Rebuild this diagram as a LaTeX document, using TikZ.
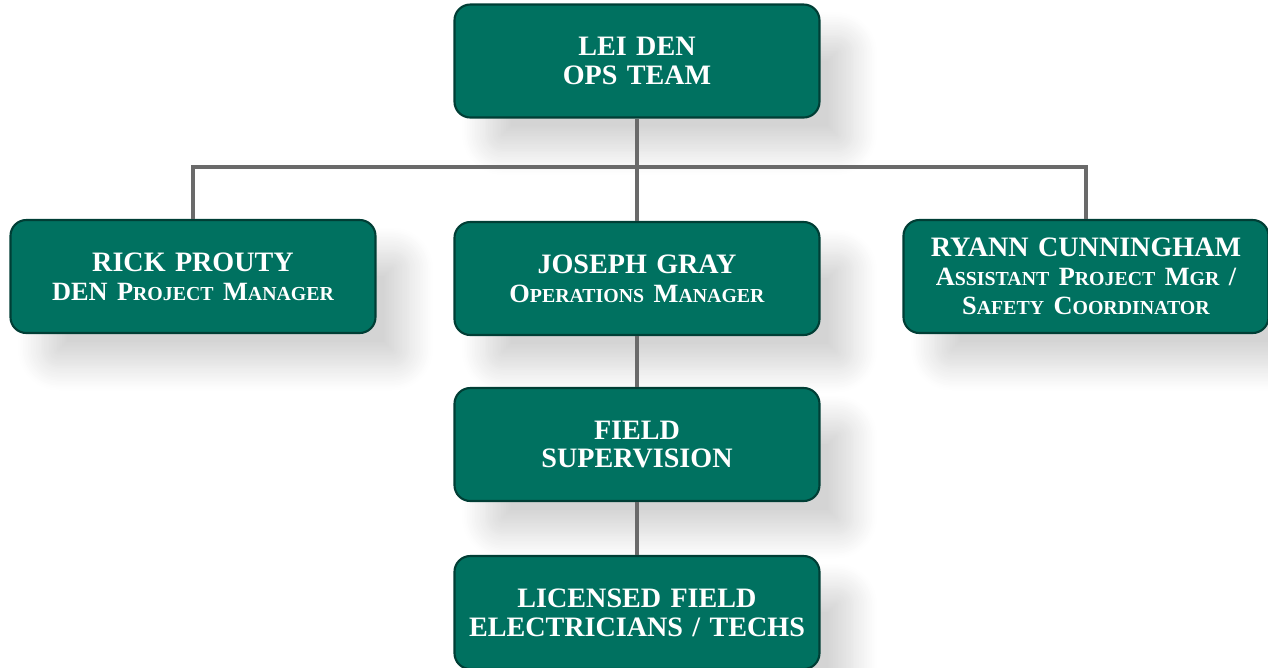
\documentclass[tikz,border=0pt]{standalone}
\usepackage{fontspec}
\setmainfont{Liberation Serif}
\usetikzlibrary{positioning, shadows.blur}
\definecolor{opsgreen}{RGB}{0,113,96}
\definecolor{linkgray}{RGB}{106,106,106}
\tikzstyle{unit} = [rectangle, rounded corners=9pt, minimum width=7.3cm, minimum height=2.26cm, text width=7.3cm, align=center, inner xsep=0pt, draw=opsgreen!55!black, line width=1.2pt, fill=opsgreen, text=white, font=\bfseries\fontsize{16}{16.5}\selectfont, blur shadow={shadow xshift=0.65cm, shadow yshift=-0.65cm, shadow blur radius=0.5cm, shadow blur steps=16, shadow opacity=17}]
\tikzstyle{link} = [line width=2.2pt, draw=linkgray]
\newcommand{\subline}[1]{{\fontsize{15}{16.5}\selectfont #1}}
\newcommand{\smc}[1]{{\fontsize{11.3}{16.5}\selectfont #1}}

\begin{document}
\begin{tikzpicture}
		\useasboundingbox (-12.74,1.22) rectangle (12.62,-12.14);
		\node (top) [unit] {LEI DEN\\OPS TEAM};
		\node (gray) [unit, below of=top, node distance=4.35cm] {JOSEPH GRAY\\\subline{O\smc{PERATIONS} M\smc{ANAGER}}};
		\node (prouty) [unit, left of=gray, node distance=8.88cm, yshift=0.04cm] {RICK PROUTY\\\subline{DEN P\smc{ROJECT} M\smc{ANAGER}}};
		\node (cunningham) [unit, right of=gray, node distance=8.98cm, yshift=0.04cm] {RYANN CUNNINGHAM\\\subline{A\smc{SSISTANT} P\smc{ROJECT} M\smc{GR}~/}\\\subline{S\smc{AFETY} C\smc{OORDINATOR}}};
		\node (field) [unit, below of=gray, node distance=3.32cm] {FIELD\\SUPERVISION};
		\node (techs) [unit, below of=field, node distance=3.36cm] {LICENSED FIELD\\ELECTRICIANS / TECHS};
		\path (top) ++(0,-2.12) coordinate (bus);

		\draw [link] (top) -- (gray);
		\draw [link] (prouty.north) |- (bus) -| (cunningham.north);
		\draw [link] (gray) -- (field);
		\draw [link] (field) -- (techs);
	\end{tikzpicture}
\end{document}
